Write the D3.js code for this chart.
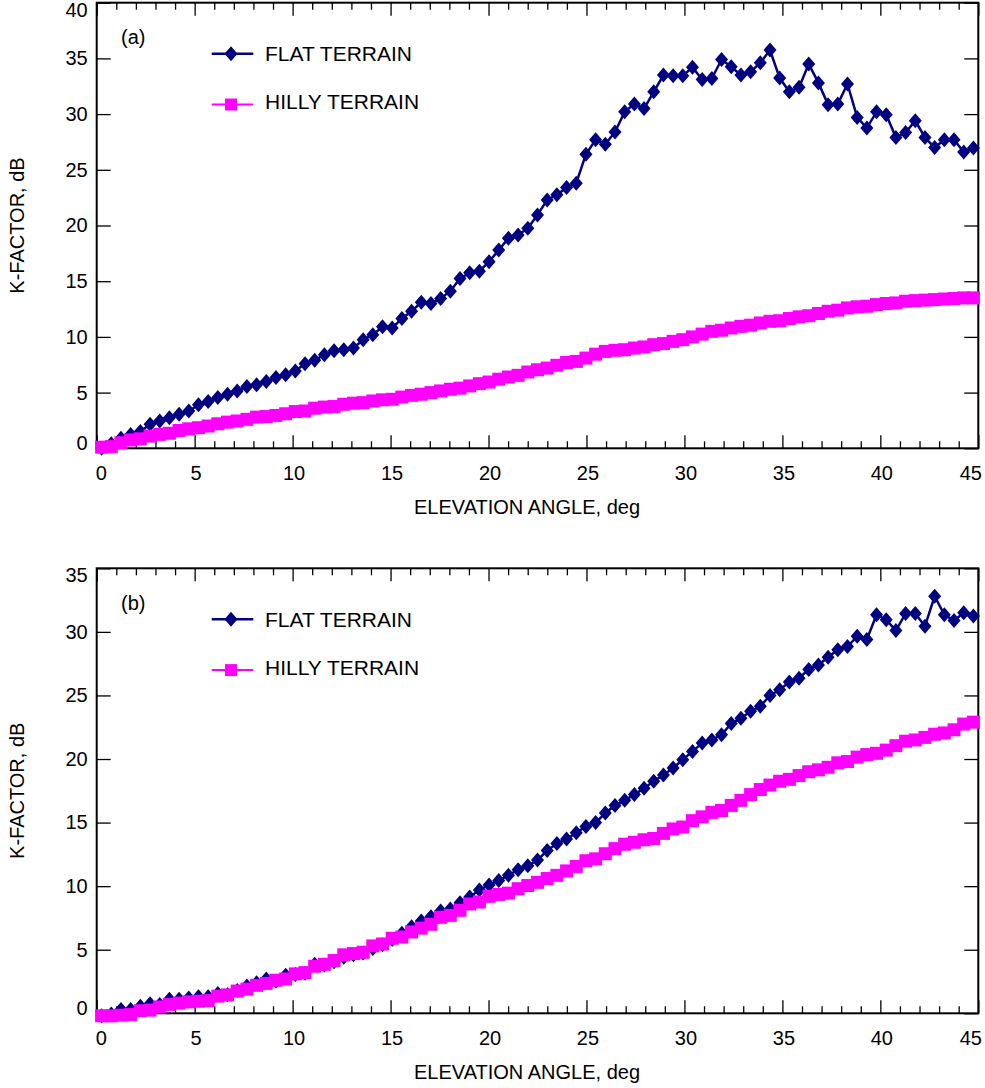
<!DOCTYPE html>
<html>
<head>
<meta charset="utf-8">
<script src="https://cdn.jsdelivr.net/npm/d3@7"></script>
<style>
  body { margin: 0; background: #fff; }
  svg text { font-family: "Liberation Sans", Arial, Helvetica, sans-serif; }
</style>
</head>
<body>
<div id="chart"></div>
<script>
// elevation angles: 91 samples, 0.25 .. 44.75 deg
const angleStart = 0.25;
const angleEnd = 44.75;
const angles = d3.range(91).map((i) => angleStart + (i * (angleEnd - angleStart)) / 90);

// (a) K-factor, dB
const flatA = [
  0.0, 0.4, 0.9, 1.25, 1.5, 2.15, 2.45, 2.75, 3.05, 3.35,
  3.9, 4.2, 4.55, 4.85, 5.15, 5.55, 5.7, 6.0, 6.35, 6.6,
  6.95, 7.6, 7.9, 8.4, 8.75, 8.85, 9.0, 9.75, 10.2, 10.9,
  10.8, 11.65, 12.3, 13.1, 13.0, 13.45, 14.1, 15.25, 15.75, 15.9,
  16.75, 17.8, 18.85, 19.15, 19.75, 20.95, 22.3, 22.75, 23.4, 23.8,
  26.4, 27.7, 27.3, 28.4, 30.2, 30.9, 30.5, 32.0, 33.5, 33.45,
  33.45, 34.2, 33.1, 33.2, 34.9, 34.25, 33.5, 33.8, 34.6, 35.75,
  33.25, 32.0, 32.4, 34.5, 32.8, 30.85, 30.9, 32.7, 29.7, 28.75,
  30.2, 29.95, 27.9, 28.35, 29.4, 27.9, 27.0, 27.7, 27.7, 26.6,
  26.95
];
const hillyA = [
  0.1, 0.15, 0.5, 0.75, 0.85, 1.1, 1.25, 1.35, 1.6, 1.75,
  1.85, 2.0, 2.2, 2.35, 2.45, 2.6, 2.8, 2.85, 2.95, 3.1,
  3.3, 3.35, 3.6, 3.7, 3.75, 3.95, 4.05, 4.1, 4.25, 4.35,
  4.4, 4.6, 4.75, 4.85, 5.0, 5.15, 5.3, 5.4, 5.6, 5.8,
  5.95, 6.2, 6.4, 6.55, 6.85, 7.05, 7.2, 7.45, 7.7, 7.8,
  8.1, 8.45, 8.7, 8.8, 8.85, 9.0, 9.1, 9.3, 9.4, 9.6,
  9.75, 10.0, 10.25, 10.5, 10.6, 10.8, 10.95, 11.05, 11.25, 11.4,
  11.45, 11.65, 11.8, 11.9, 12.1, 12.3, 12.4, 12.6, 12.7, 12.75,
  12.9, 13.0, 13.05, 13.2, 13.25, 13.3, 13.35, 13.4, 13.45, 13.5,
  13.5
];

// (b) K-factor, dB
const flatB = [
  -0.2, -0.05, 0.3, 0.3, 0.55, 0.75, 0.7, 1.1, 1.1, 1.2,
  1.3, 1.3, 1.55, 1.45, 1.8, 2.15, 2.4, 2.7, 2.55, 3.0,
  3.05, 3.15, 3.85, 3.8, 4.05, 4.4, 4.6, 4.75, 5.1, 5.4,
  5.8, 6.3, 6.8, 7.25, 7.6, 8.05, 8.2, 8.7, 9.15, 9.7,
  10.1, 10.45, 10.85, 11.3, 11.6, 12.05, 12.8, 13.35, 13.7, 14.2,
  14.7, 15.0, 15.75, 16.35, 16.75, 17.2, 17.7, 18.25, 18.75, 19.3,
  19.95, 20.6, 21.25, 21.5, 21.9, 22.8, 23.2, 23.75, 24.15, 25.0,
  25.45, 26.05, 26.35, 27.05, 27.4, 28.0, 28.6, 28.85, 29.65, 29.4,
  31.35, 30.95, 30.1, 31.45, 31.45, 30.45, 32.8, 31.35, 30.9, 31.5,
  31.25
];
const hillyB = [
  -0.2, -0.2, -0.15, -0.1, 0.2, 0.25, 0.5, 0.7, 0.8, 0.9,
  0.95, 1.0, 1.35, 1.45, 1.75, 1.9, 2.2, 2.35, 2.6, 2.7,
  3.1, 3.2, 3.7, 3.85, 4.15, 4.6, 4.7, 4.8, 5.3, 5.45,
  5.9, 6.0, 6.4, 6.7, 7.0, 7.55, 7.7, 8.1, 8.6, 8.75,
  9.2, 9.35, 9.45, 9.8, 10.05, 10.3, 10.6, 10.85, 11.2, 11.55,
  12.0, 12.15, 12.55, 12.95, 13.3, 13.45, 13.65, 13.75, 14.15, 14.5,
  14.65, 15.15, 15.45, 15.8, 15.95, 16.35, 16.75, 17.2, 17.6, 17.95,
  18.25, 18.4, 18.7, 19.0, 19.15, 19.35, 19.7, 19.8, 20.15, 20.35,
  20.45, 20.7, 21.05, 21.4, 21.5, 21.7, 21.95, 22.05, 22.3, 22.75,
  22.9
];

const xMajorTicks = [0, 5, 10, 15, 20, 25, 30, 35, 40, 45];
const xMinorTicks = d3.range(0, 46).filter((d) => d % 5 !== 0);
const seriesNames = ["FLAT TERRAIN", "HILLY TERRAIN"];
const xTitle = "ELEVATION ANGLE, deg";
const yTitle = "K-FACTOR, dB";

const panels = [
  { tag: "(a)", yMax: 40, top: 2.7, bottom: 448.3, flat: flatA, hilly: hillyA },
  { tag: "(b)", yMax: 35, top: 568.3, bottom: 1013.3, flat: flatB, hilly: hillyB },
];

const NAVY = "#000080";
const MAGENTA = "#ff00ff";
const width = 985;
const height = 1088;
const squareSize = 13;

const svg = d3
  .select("#chart")
  .append("svg")
  .attr("width", width)
  .attr("height", height);

const x = d3.scaleLinear().domain([0, 45]).range([96.7, 978.3]);

const diamondPath = "M0,-7.5L6.5,0L0,7.5L-6.5,0Z";

function styleAxis(axisGroup) {
  axisGroup.select(".domain").remove();
  axisGroup.selectAll("line").attr("stroke", "#000").attr("stroke-width", 1.3);
  axisGroup
    .selectAll("text")
    .attr("fill", "#000")
    .attr("font-size", 20)
    .attr("font-family", '"Liberation Sans", Arial, Helvetica, sans-serif');
}

function drawPanel(panel) {
  const y = d3
    .scaleLinear()
    .domain([0, panel.yMax])
    .range([panel.bottom, panel.top]);
  const yTicks = d3.range(0, panel.yMax + 1, 5);
  const g = svg.append("g");

  // axes, ticks point inward on all four sides
  const bottomAxis = g
    .append("g")
    .attr("transform", `translate(0,${panel.bottom})`)
    .call(
      d3.axisBottom(x).tickValues(xMajorTicks).tickSize(-13).tickPadding(18).tickFormat(d3.format("d"))
    );
  styleAxis(bottomAxis);
  bottomAxis.selectAll("text").attr("dx", (d) => (d === 0 ? 4 : d === 45 ? -8 : 1));

  styleAxis(
    g
      .append("g")
      .attr("transform", `translate(0,${panel.bottom})`)
      .call(d3.axisBottom(x).tickValues(xMinorTicks).tickSize(-7).tickFormat(""))
  );
  styleAxis(
    g
      .append("g")
      .attr("transform", `translate(0,${panel.top})`)
      .call(d3.axisTop(x).tickValues(xMajorTicks).tickSize(-13).tickFormat(""))
  );
  styleAxis(
    g
      .append("g")
      .attr("transform", `translate(0,${panel.top})`)
      .call(d3.axisTop(x).tickValues(xMinorTicks).tickSize(-7).tickFormat(""))
  );

  const leftAxis = g
    .append("g")
    .attr("transform", `translate(${x(0)},0)`)
    .call(d3.axisLeft(y).tickValues(yTicks).tickSize(-14).tickPadding(9));
  styleAxis(leftAxis);
  leftAxis
    .selectAll("text")
    .attr("y", (d) => (d === 0 ? -5 : d === panel.yMax ? 7 : 0));

  styleAxis(
    g
      .append("g")
      .attr("transform", `translate(${x(45)},0)`)
      .call(d3.axisRight(y).tickValues(yTicks).tickSize(-14).tickFormat(""))
  );

  g.append("rect")
    .attr("x", x(0))
    .attr("y", panel.top)
    .attr("width", x(45) - x(0))
    .attr("height", panel.bottom - panel.top)
    .attr("fill", "none")
    .attr("stroke", "#000")
    .attr("stroke-width", 2);

  // titles
  g.append("text")
    .attr("x", 527)
    .attr("y", panel.bottom + 66)
    .attr("text-anchor", "middle")
    .attr("font-size", 20)
    .text(xTitle);

  g.append("text")
    .attr(
      "transform",
      `translate(24,${(panel.top + panel.bottom) / 2}) rotate(-90)`
    )
    .attr("text-anchor", "middle")
    .attr("font-size", 20)
    .text(yTitle);

  // series
  const line = d3
    .line()
    .x((d, i) => x(angles[i]))
    .y((d) => y(d));

  g.append("path")
    .datum(panel.flat)
    .attr("d", line)
    .attr("fill", "none")
    .attr("stroke", NAVY)
    .attr("stroke-width", 2.5);

  g.append("g")
    .selectAll("path")
    .data(panel.flat)
    .enter()
    .append("path")
    .attr("d", diamondPath)
    .attr("transform", (d, i) => `translate(${x(angles[i])},${y(d)})`)
    .attr("fill", NAVY);

  g.append("path")
    .datum(panel.hilly)
    .attr("d", line)
    .attr("fill", "none")
    .attr("stroke", MAGENTA)
    .attr("stroke-width", 2);

  g.append("g")
    .selectAll("rect")
    .data(panel.hilly)
    .enter()
    .append("rect")
    .attr("x", (d, i) => x(angles[i]) - squareSize / 2)
    .attr("y", (d) => y(d) - squareSize / 2)
    .attr("width", squareSize)
    .attr("height", squareSize)
    .attr("fill", MAGENTA);

  // panel tag and legend
  g.append("text")
    .attr("x", 121)
    .attr("y", panel.top + 41.5)
    .attr("font-size", 20)
    .text(panel.tag);

  const legend = g.append("g").attr("transform", `translate(0,${panel.top})`);
  const legendRows = [
    { name: seriesNames[0], color: NAVY, lineY: 51, textY: 58.5, width: 2.5 },
    { name: seriesNames[1], color: MAGENTA, lineY: 101.8, textY: 106.5, width: 2 },
  ];

  legendRows.forEach((row, index) => {
    legend
      .append("line")
      .attr("x1", 211.7)
      .attr("x2", 253.3)
      .attr("y1", row.lineY)
      .attr("y2", row.lineY)
      .attr("stroke", row.color)
      .attr("stroke-width", row.width);
    if (index === 0) {
      legend
        .append("path")
        .attr("d", diamondPath)
        .attr("transform", `translate(231,${row.lineY})`)
        .attr("fill", row.color);
    } else {
      legend
        .append("rect")
        .attr("x", 225)
        .attr("y", row.lineY - 6)
        .attr("width", 12)
        .attr("height", 12)
        .attr("fill", row.color);
    }
    legend
      .append("text")
      .attr("x", 265)
      .attr("y", row.textY)
      .attr("font-size", 21)
      .text(row.name);
  });
}

panels.forEach(drawPanel);
</script>
</body>
</html>
